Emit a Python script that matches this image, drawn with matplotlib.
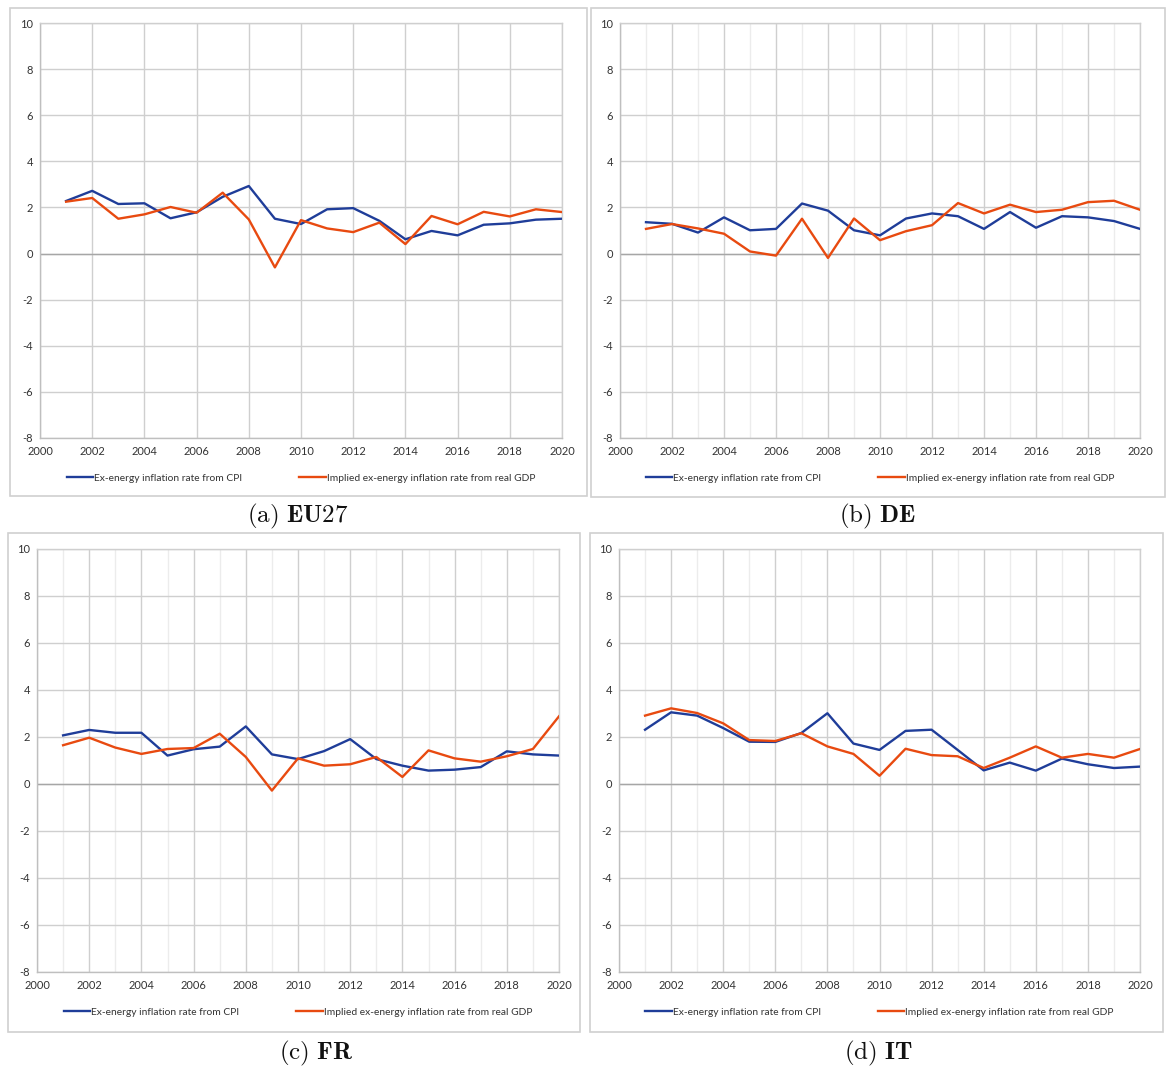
import matplotlib
matplotlib.use("Agg")
import matplotlib.pyplot as plt
from matplotlib.patches import Rectangle
from matplotlib.ticker import MultipleLocator

plt.rcParams['mathtext.fontset'] = 'cm'
plt.rcParams['axes.unicode_minus'] = False

years = list(range(2001, 2021))

eu27_cpi = [2.28, 2.72, 2.15, 2.18, 1.53, 1.79, 2.46, 2.93, 1.51, 1.28,
            1.92, 1.97, 1.42, 0.62, 0.98, 0.79, 1.25, 1.31, 1.47, 1.51]
eu27_gdp = [2.25, 2.41, 1.51, 1.70, 2.02, 1.77, 2.64, 1.48, -0.60, 1.45,
            1.09, 0.93, 1.34, 0.41, 1.63, 1.27, 1.81, 1.61, 1.92, 1.80]

de_cpi = [1.36, 1.29, 0.91, 1.57, 1.01, 1.07, 2.17, 1.86, 1.01, 0.79,
          1.52, 1.74, 1.62, 1.07, 1.80, 1.12, 1.62, 1.57, 1.41, 1.07]
de_gdp = [1.07, 1.28, 1.09, 0.86, 0.09, -0.09, 1.51, -0.19, 1.52, 0.58,
          0.97, 1.23, 2.19, 1.74, 2.12, 1.80, 1.90, 2.23, 2.29, 1.90]

fr_cpi = [2.07, 2.30, 2.18, 2.18, 1.21, 1.48, 1.59, 2.45, 1.26, 1.06,
          1.40, 1.91, 1.06, 0.78, 0.57, 0.61, 0.72, 1.39, 1.26, 1.21]
fr_gdp = [1.65, 1.97, 1.55, 1.28, 1.49, 1.53, 2.14, 1.15, -0.28, 1.09,
          0.78, 0.84, 1.15, 0.30, 1.43, 1.09, 0.95, 1.18, 1.49, 2.88]

it_cpi = [2.31, 3.05, 2.91, 2.38, 1.80, 1.79, 2.17, 3.01, 1.72, 1.45,
          2.26, 2.31, 1.45, 0.58, 0.91, 0.57, 1.08, 0.84, 0.68, 0.74]
it_gdp = [2.91, 3.22, 3.02, 2.58, 1.87, 1.83, 2.16, 1.60, 1.28, 0.35,
          1.50, 1.23, 1.18, 0.68, 1.12, 1.60, 1.12, 1.28, 1.12, 1.49]

series_labels = ["Ex-energy inflation rate from CPI",
                 "Implied ex-energy inflation rate from real GDP"]
captions = [r"$\mathrm{(a)}\ \mathbf{EU27}$", r"$\mathrm{(b)}\ \mathbf{DE}$",
            r"$\mathrm{(c)}\ \mathbf{FR}$", r"$\mathrm{(d)}\ \mathbf{IT}$"]

W, H = 1167, 1073
fig = plt.figure(figsize=(W / 100, H / 100), dpi=100)

BLUE = "#1F3D99"
ORANGE = "#E84A10"
TXT = "#333333"
FONT = ["Lato", "DejaVu Sans"]

panels = [
    (eu27_cpi, eu27_gdp, (40, 562, 23, 438), (10, 587, 8, 496), False, (298, 516)),
    (de_cpi, de_gdp, (620, 1140, 23, 438), (591, 1165, 8, 497), True, (878, 516)),
    (fr_cpi, fr_gdp, (37, 559, 549, 972), (8, 580, 533, 1032), True, (316, 1053)),
    (it_cpi, it_gdp, (619, 1140, 549, 972), (590, 1163, 533, 1032), True, (878, 1053)),
]

for i, (cpi, gdp, ax_px, box_px, minor, cap) in enumerate(panels):
    bx0, bx1, by0, by1 = box_px
    fig.patches.append(Rectangle((bx0 / W, 1 - by1 / H), (bx1 - bx0) / W, (by1 - by0) / H,
                                 transform=fig.transFigure, fill=False,
                                 edgecolor="#d0d0d0", linewidth=1.2, zorder=0))
    x0, x1, yt, yb = ax_px
    ax = fig.add_axes([x0 / W, 1 - yb / H, (x1 - x0) / W, (yb - yt) / H])
    ax.set_xlim(2000, 2020)
    ax.set_ylim(-8, 10)
    ax.xaxis.set_major_locator(MultipleLocator(2))
    ax.yaxis.set_major_locator(MultipleLocator(2))
    if minor:
        ax.xaxis.set_minor_locator(MultipleLocator(1))
        ax.grid(True, which="minor", axis="x", color="#ececec", linewidth=1.0)
    ax.grid(True, which="major", axis="both", color="#cfcfcf", linewidth=1.0)
    ax.axhline(0, color="#a6a6a6", linewidth=1.0, zorder=1.5)
    ax.set_axisbelow(True)
    for s in ax.spines.values():
        s.set_color("#cfcfcf")
        s.set_linewidth(1.0)
    ax.spines["left"].set_color("#bfbfbf")
    ax.spines["bottom"].set_color("#bfbfbf")
    ax.tick_params(which="both", length=0, labelsize=8, labelcolor=TXT)
    ax.tick_params(axis="y", pad=5)
    ax.tick_params(axis="x", pad=6)
    for lab in ax.get_xticklabels() + ax.get_yticklabels():
        lab.set_family(FONT)
    l1, = ax.plot(years, cpi, color=BLUE, linewidth=1.7, label=series_labels[0], zorder=3)
    l2, = ax.plot(years, gdp, color=ORANGE, linewidth=1.7, label=series_labels[1], zorder=3)
    leg_y = 1 - (yb + 40) / H
    leg = fig.legend(handles=[l1, l2], loc="center",
                     bbox_to_anchor=((x0 + x1) / 2 / W, leg_y), ncol=2, frameon=False,
                     prop={"family": FONT, "size": 7.4}, handlelength=2.6,
                     handletextpad=0.1, columnspacing=5.5)
    for t in leg.get_texts():
        t.set_color(TXT)
    fig.text(cap[0] / W, 1 - cap[1] / H, captions[i], ha="center", va="center",
             fontsize=18, color="#111111")

fig.savefig("out.png", dpi=100, facecolor="white")
